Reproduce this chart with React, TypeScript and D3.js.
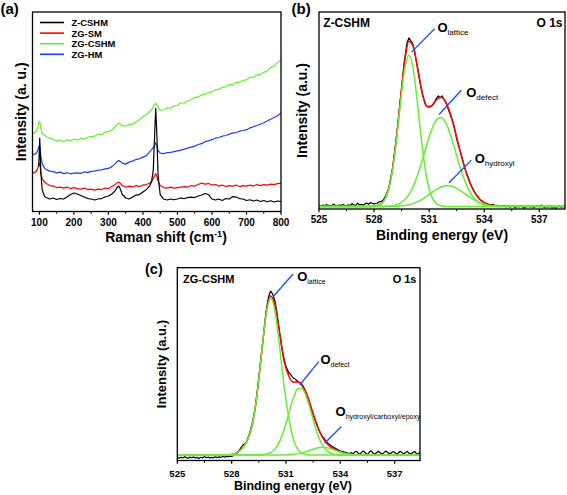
import React from "react";
import * as d3 from "d3";

// ---------------- data: panel (a) Raman ----------------
const ramanShift = [80, 90, 95, 98, 101, 104, 108, 115, 120, 130, 140, 150, 160, 170, 180, 190, 200, 210, 220, 230, 240, 250, 260, 270, 280, 290, 300, 310, 320, 325, 330, 335, 340, 350, 360, 370, 380, 390, 400, 410, 420, 425, 430, 434, 437, 440, 444, 450, 460, 470, 480, 490, 500, 510, 520, 530, 540, 550, 560, 570, 580, 590, 600, 610, 620, 630, 640, 650, 660, 670, 680, 690, 700, 710, 720, 730, 740, 750, 760, 770, 780, 790, 800];
const ramanZCSHM: (number | null)[] = [null, null, null, 45, 73.5, 40, 22, 15, 14, 12.5, 13.5, 12, 13, 12.5, 14.5, 17, 18.5, 17.5, 16, 14.5, 13, 12.5, 11.5, 12.5, 13, 14.5, 15.5, 17.5, 21, 24, 25.5, 22, 17, 13.5, 12.5, 14.5, 16.5, 17, 19.5, 22, 26, 30, 42, 78, 103.5, 80, 35, 17, 12.5, 11.5, 12.5, 11.8, 12.5, 13.5, 13, 14, 14.5, 14, 15.5, 16.5, 18, 17, 12.5, 11.5, 12.5, 11, 13, 12.5, 15, 14.5, 13, 12.5, 11, 11.8, 10.5, 11.5, 10, 11, 9.8, 10.8, 9.5, 10.5, 10];
const ramanZGSM = [38.5, 40, 43, 47, 48.5, 40, 33, 29.5, 28, 26, 25.5, 24, 24.5, 23.5, 24.5, 23, 24, 23, 22.5, 23.5, 22, 22.5, 21.5, 22.5, 22, 23.5, 23, 25, 27, 28.5, 29.5, 28, 26, 24.5, 25.5, 24.5, 26, 25, 26.5, 27, 28.5, 30, 33, 36, 38, 35.5, 30, 26, 24, 23.5, 24.5, 23.5, 24, 24.5, 25, 24.5, 26, 25.5, 27, 28.5, 27.5, 28, 26.5, 27, 25.5, 26.5, 25, 26, 25.5, 26.5, 25, 26, 25.5, 26.5, 25.5, 27, 26, 27, 26.5, 27.5, 27, 28, 28.5];
const ramanZGCSHM = [78.5, 80, 84, 88.5, 90.5, 84, 78, 76.5, 75, 73.5, 72.5, 70.5, 71.5, 70, 72, 70.8, 72.5, 71.5, 73.5, 72.5, 74.5, 75, 75.5, 77.5, 77, 79.5, 80, 81.5, 85, 87, 88.7, 87.5, 86, 85.5, 87.5, 87.5, 90, 92, 95, 97, 100.5, 102, 105, 107.5, 108.7, 107, 104, 101.5, 102, 104, 103.5, 106, 106.5, 109, 108.5, 111, 112, 114.5, 114.5, 117, 117.5, 119.5, 120, 122, 122.5, 124.5, 125, 127.5, 127, 129.5, 129.5, 131.5, 132, 134.5, 134.5, 137, 137.5, 139.5, 141, 144.5, 145.5, 149.5, 152];
const ramanZGHM = [57, 58, 61, 64.5, 66, 56, 48, 43.5, 42, 40.5, 40, 38.7, 39.5, 38, 38.8, 37.8, 38.5, 38.8, 38.2, 39.8, 39, 40.2, 40.5, 41.5, 41.8, 42.8, 43.2, 45, 48, 50, 51, 50, 48.5, 47.5, 49.5, 50.5, 52.2, 52.8, 54.5, 56, 60, 62, 64, 67, 69, 66, 61, 58.5, 58, 59, 59.3, 60, 60.8, 61.5, 62.5, 63.5, 64.5, 65.5, 67.2, 68, 70, 70.8, 72, 73.5, 74.2, 75.5, 76.2, 77.5, 78.5, 79.2, 80.5, 81.2, 82, 83.8, 85, 86.2, 87.5, 89, 90.8, 92.5, 94.2, 96, 98.7];
const ramanTicks = [100, 200, 300, 400, 500, 600, 700, 800];
const ramanMinorTicks = [150, 250, 350, 450, 550, 650, 750];
const ramanLegend = ["Z-CSHM", "ZG-SM", "ZG-CSHM", "ZG-HM"];

// ---------------- data: panel (b) Z-CSHM O 1s ----------------
const bEnergy = [525, 527.4, 527.65, 527.9, 528.15, 528.4, 528.65, 528.9, 529.15, 529.4, 529.65, 529.9, 530.15, 530.4, 530.65, 530.9, 531.15, 531.4, 531.65, 531.9, 532.15, 532.4, 532.65, 532.9, 533.15, 533.4, 533.65, 533.9, 534.15, 534.4, 534.65, 534.9, 538.5];
const bLattice = [1, 1, 1, 1.1, 1.7, 3.8, 10.4, 26.6, 56.8, 98.2, 136.8, 152.7, 136.8, 98.2, 56.8, 26.6, 10.4, 3.8, 1.7, 1.1, 1, 1, 1, 1, 1, 1, 1, 1, 1, 1, 1, 1, 1];
const bDefect = [1, 1, 1, 1, 1.02, 1.08, 1.22, 1.57, 2.4, 4.14, 7.44, 13.1, 21.9, 34.0, 48.9, 64.7, 78.7, 88.0, 90.2, 85.0, 73.5, 58.4, 42.7, 28.8, 17.9, 10.5, 5.9, 3.3, 2.0, 1.39, 1.14, 1.05, 1];
const bHydroxyl = [1, 1, 1, 1, 1, 1.02, 1.04, 1.1, 1.23, 1.5, 1.98, 2.82, 4.15, 6.08, 8.65, 11.7, 15.1, 18.2, 20.6, 21.9, 21.7, 20.2, 17.6, 14.4, 11.1, 8.1, 5.65, 3.84, 2.62, 1.86, 1.43, 1.2, 1];
const bEnvelope = [1, 1, 1, 1.1, 1.7, 3.9, 10.7, 27.3, 58.4, 101.8, 144.2, 166.6, 160.9, 136.3, 112.4, 101.0, 102.2, 108.0, 110.5, 106.0, 94.2, 77.6, 59.3, 42.2, 28.0, 17.6, 10.6, 6.1, 3.6, 2.25, 1.6, 1.25, 1];
const bMeasured: [number, number][] = [[525.0, 2.0], [525.1, 1.5], [525.2, 2.4], [525.3, 1.8], [525.4, 2.6], [525.5, 2.1], [525.6, 1.6], [525.7, 2.3], [525.8, 3.4], [525.9, 2.0], [526.0, 1.7], [526.1, 2.5], [526.2, 1.9], [526.3, 3.0], [526.4, 2.2], [526.5, 1.5], [526.6, 2.7], [526.7, 2.0], [526.8, 3.8], [526.9, 2.4], [527.0, 2.2], [527.1, 4.4], [527.2, 2.6], [527.3, 3.1], [527.4, 2.5], [527.5, 3.6], [527.6, 4.6], [527.7, 3.2], [527.8, 5.0], [527.9, 4.1], [528.0, 3.6], [528.15, 4.0], [528.3, 5.8], [528.4, 6.0], [528.5, 7.5], [528.65, 12.3], [528.8, 19.5], [528.9, 29.0], [529.0, 38.5], [529.15, 60.5], [529.3, 83.0], [529.4, 103.5], [529.5, 119.0], [529.65, 147.0], [529.8, 165.5], [529.9, 170.0], [530.0, 167.0], [530.1, 164.5], [530.2, 156.5], [530.3, 146.5], [530.4, 137.5], [530.5, 126.0], [530.65, 112.5], [530.8, 103.0], [530.9, 101.5], [531.0, 100.5], [531.15, 102.0], [531.3, 106.0], [531.4, 109.5], [531.5, 111.8], [531.6, 110.0], [531.7, 112.0], [531.8, 108.5], [531.9, 105.5], [532.0, 101.0], [532.15, 93.0], [532.3, 85.0], [532.4, 78.0], [532.5, 68.5], [532.65, 59.0], [532.8, 49.5], [532.9, 42.5], [533.0, 36.5], [533.15, 28.8], [533.3, 21.5], [533.4, 18.0], [533.55, 13.0], [533.65, 11.2], [533.8, 7.0], [533.9, 6.3], [534.0, 4.5], [534.15, 4.0], [534.3, 2.4], [534.4, 2.8], [534.5, 3.0], [534.6, 1.6], [534.7, 2.2], [534.8, 0.8], [534.9, 1.8], [535.0, 1.1], [535.1, 2.0], [535.2, 0.6], [535.3, 1.4], [535.4, 0.3], [535.5, 1.5], [535.6, 0.9], [535.7, -0.4], [535.8, 1.2], [535.9, 0.5], [536.0, 1.6], [536.1, 0.2], [536.2, -0.6], [536.3, 0.8], [536.4, 1.4], [536.5, 0.4], [536.6, 1.0], [536.7, -0.2], [536.8, 0.9], [536.9, 1.7], [537.0, 0.6], [537.1, 2.4], [537.2, 0.8], [537.3, -0.3], [537.4, 1.1], [537.5, 0.2], [537.6, 1.6], [537.7, -0.8], [537.8, 0.9], [537.9, -1.0], [538.0, 0.7], [538.1, 1.5], [538.2, 0.1], [538.3, 1.3], [538.4, 0.5]];
const bCallouts = [
  { sub: "lattice", at: [531.45, 175.5], from: [531.3, 179.2], to: [530.04, 155.8] },
  { sub: "defect", at: [533.02, 110.8], from: [532.75, 117.5], to: [531.54, 93.2] },
  { sub: "hydroxyl", at: [533.48, 44.2], from: [533.3, 47.5], to: [532.08, 24.8] },
];

// ---------------- data: panel (c) ZG-CSHM O 1s ----------------
const cEnergy = [525, 527.65, 527.9, 528.15, 528.4, 528.65, 528.9, 529.15, 529.4, 529.65, 529.9, 530.15, 530.4, 530.65, 530.9, 531.15, 531.4, 531.65, 531.9, 532.15, 532.4, 532.65, 532.9, 533.15, 533.4, 533.65, 533.9, 534.15, 534.4, 534.65, 534.9, 535.15, 538.5];
const cLattice = [5.5, 5.5, 5.8, 6.7, 9.0, 13.5, 21.5, 36.5, 65.5, 106.5, 145.5, 162.2, 148.5, 113.5, 73.5, 43.5, 21.5, 11.0, 7.0, 5.8, 5.5, 5.5, 5.5, 5.5, 5.5, 5.5, 5.5, 5.5, 5.5, 5.5, 5.5, 5.5, 5.5];
const cDefect = [5.5, 5.5, 5.5, 5.5, 5.5, 5.5, 5.5, 5.51, 5.55, 5.72, 6.29, 7.88, 11.65, 19.1, 31.0, 46.6, 61.9, 71.8, 72.0, 62.5, 47.2, 31.6, 19.4, 11.9, 8.0, 6.33, 5.74, 5.56, 5.5, 5.5, 5.5, 5.5, 5.5];
const cHydroxyl = [5.5, 5.5, 5.5, 5.5, 5.5, 5.5, 5.5, 5.5, 5.5, 5.5, 5.5, 5.5, 5.5, 5.52, 5.58, 5.72, 6.03, 6.63, 7.64, 9.06, 10.7, 12.2, 13.09, 13.07, 12.15, 10.64, 9.0, 7.59, 6.6, 6.01, 5.71, 5.58, 5.5];
const cEnvelope = [5.5, 5.5, 5.8, 6.7, 9.0, 13.5, 21.5, 36.5, 65.6, 106.7, 146.3, 164.6, 154.7, 127.1, 99.1, 84.8, 78.4, 78.4, 75.6, 66.4, 52.4, 38.3, 27.0, 19.5, 14.65, 11.5, 9.24, 7.65, 6.6, 6.0, 5.7, 5.6, 5.5];
const cMeasured: [number, number][] = [[525.0, 3.0], [525.1, 2.4], [525.2, 3.3], [525.3, 2.6], [525.4, 3.8], [525.5, 2.9], [525.6, 2.2], [525.7, 3.4], [525.8, 2.7], [525.9, 3.6], [526.0, 2.5], [526.1, 3.1], [526.2, 2.0], [526.3, 3.3], [526.4, 2.6], [526.5, 3.9], [526.6, 2.8], [526.7, 3.5], [526.8, 2.4], [526.9, 3.2], [527.0, 2.7], [527.1, 3.8], [527.2, 2.9], [527.3, 3.6], [527.4, 3.0], [527.5, 4.2], [527.6, 3.4], [527.7, 4.0], [527.8, 3.8], [527.9, 4.4], [528.0, 4.0], [528.15, 5.5], [528.3, 7.5], [528.4, 9.5], [528.5, 12.5], [528.65, 16.0], [528.8, 17.5], [528.9, 22.5], [529.0, 27.5], [529.15, 38.0], [529.3, 52.0], [529.4, 67.0], [529.5, 83.0], [529.65, 108.0], [529.8, 131.0], [529.9, 149.0], [530.0, 160.0], [530.08, 166.0], [530.15, 169.5], [530.25, 167.0], [530.32, 163.5], [530.4, 159.0], [530.5, 148.0], [530.65, 128.0], [530.8, 110.0], [530.9, 101.0], [531.0, 94.0], [531.15, 88.0], [531.3, 85.0], [531.4, 82.5], [531.5, 81.5], [531.65, 79.0], [531.8, 77.5], [531.9, 74.5], [532.0, 71.5], [532.15, 65.5], [532.3, 58.0], [532.4, 52.0], [532.5, 46.0], [532.65, 38.8], [532.8, 31.5], [532.9, 27.5], [533.0, 24.0], [533.15, 21.0], [533.3, 17.5], [533.4, 16.0], [533.5, 14.5], [533.65, 13.0], [533.8, 11.5], [533.9, 10.5], [534.0, 9.5], [534.15, 9.0], [534.3, 8.0], [534.4, 7.5], [534.5, 6.8], [534.6, 8.0], [534.7, 6.5], [534.8, 8.5], [534.9, 9.2], [535.0, 7.0], [535.1, 6.2], [535.2, 8.8], [535.3, 9.5], [535.4, 7.2], [535.5, 6.0], [535.6, 8.5], [535.7, 9.6], [535.8, 7.5], [535.9, 6.2], [536.0, 7.8], [536.1, 9.3], [536.2, 8.0], [536.3, 6.4], [536.4, 7.6], [536.5, 9.4], [536.6, 8.2], [536.7, 6.5], [536.8, 7.4], [536.9, 9.0], [537.0, 8.3], [537.1, 6.3], [537.2, 7.5], [537.3, 9.2], [537.4, 8.0], [537.5, 6.6], [537.6, 7.9], [537.7, 9.1], [537.8, 7.2], [537.9, 6.2], [538.0, 8.0], [538.1, 9.0], [538.2, 7.0], [538.3, 6.5], [538.4, 8.2]];
const cCallouts = [
  { sub: "lattice", at: [531.62, 179.8], from: [531.39, 186.5], to: [530.29, 163.8] },
  { sub: "defect", at: [532.9, 96.5], from: [532.81, 98.8], to: [531.76, 75.5] },
  { sub: "hydroxyl/carboxyl/epoxy", at: [533.74, 44.5], from: [534.05, 33.8], to: [533.13, 17.2] },
];

const xpsTicks = [525, 528, 531, 534, 537];
const xpsMinorTicks = [526.5, 529.5, 532.5, 535.5];

// ---------------- styling ----------------
const FONT = "Arial, 'Liberation Sans', Helvetica, sans-serif";
const BLACK = "#000000";
const RED = "#ff0000";
const GREEN = "#66ee33";
const BLUE = "#1f3cff";
const ARROW = "#1a4cff";
const ramanColors = [BLACK, RED, GREEN, BLUE];

type Box = { left: number; right: number; top: number; bottom: number };
type Scale = d3.ScaleLinear<number, number>;

function Frame({ box }: { box: Box }) {
  return (
    <rect x={box.left} y={box.top} width={box.right - box.left} height={box.bottom - box.top}
      fill="none" stroke="#000" strokeWidth={1.3} />
  );
}

function XAxis({ scale, y, major, minor, fontSize, labelOffset }:
  { scale: Scale; y: number; major: number[]; minor: number[]; fontSize: number; labelOffset: number }) {
  return (
    <g>
      {major.map((t) => (
        <line key={"M" + t} x1={scale(t)} x2={scale(t)} y1={y} y2={y + 3.2} stroke="#000" strokeWidth={1.2} />
      ))}
      {minor.map((t) => (
        <line key={"m" + t} x1={scale(t)} x2={scale(t)} y1={y} y2={y + 2.2} stroke="#000" strokeWidth={1} />
      ))}
      {major.map((t) => (
        <text key={"L" + t} x={scale(t)} y={y + labelOffset} textAnchor="middle" fontSize={fontSize}
          fontWeight="bold" fontFamily={FONT}>{t}</text>
      ))}
    </g>
  );
}

function Callout({ xs, ys, c, fontO, fontSub }:
  { xs: Scale; ys: Scale; c: { sub: string; at: number[]; from: number[]; to: number[] }; fontO: number; fontSub: number }) {
  return (
    <g>
      <line x1={xs(c.from[0])} y1={ys(c.from[1])} x2={xs(c.to[0])} y2={ys(c.to[1])} stroke={ARROW} strokeWidth={1.3} />
      <text x={xs(c.at[0])} y={ys(c.at[1])} fontFamily={FONT} fontSize={fontO} fontWeight="bold">
        O<tspan dy={3} fontSize={fontSub} fontWeight="normal">{c.sub}</tspan>
      </text>
    </g>
  );
}

export default function App() {
  // panel geometry
  const A: Box = { left: 32.5, right: 281, top: 12, bottom: 211.5 };
  const B: Box = { left: 319, right: 565, top: 12, bottom: 209 };
  const C: Box = { left: 177.3, right: 420, top: 267.7, bottom: 460.5 };

  const xA = d3.scaleLinear().domain([80, 800]).range([A.left, A.right]);
  const yA = d3.scaleLinear().domain([0, 200]).range([A.bottom, A.top]);
  const xB = d3.scaleLinear().domain([525, 538.4]).range([B.left, B.right]);
  const yB = d3.scaleLinear().domain([-1.5, 196]).range([B.bottom, B.top]);
  const xC = d3.scaleLinear().domain([525, 538.4]).range([C.left, C.right]);
  const yC = d3.scaleLinear().domain([0, 192.8]).range([C.bottom, C.top]);

  const ramanLine = (vals: (number | null)[]) =>
    d3.line<number | null>()
      .defined((v) => v != null)
      .x((_, i) => xA(ramanShift[i]))
      .y((v) => yA(v as number))(vals) || "";

  const fitLine = (xs: Scale, ys: Scale, energy: number[]) => (vals: number[]) =>
    d3.line<number>()
      .x((_, i) => xs(energy[i]))
      .y((v) => ys(v))
      .curve(d3.curveMonotoneX)(vals) || "";

  const rawLine = (xs: Scale, ys: Scale) => (pts: [number, number][]) =>
    d3.line<[number, number]>().x((p) => xs(p[0])).y((p) => ys(p[1]))(pts) || "";

  const fitB = fitLine(xB, yB, bEnergy);
  const fitC = fitLine(xC, yC, cEnergy);

  const ramanSeries = [ramanZCSHM, ramanZGSM, ramanZGCSHM, ramanZGHM];
  const legendStep = 10.6;

  return (
    <svg width={567} height={495} viewBox="0 0 567 495"
      style={{ position: "absolute", left: 0, top: 0, background: "#fff", display: "block" }}
      fontFamily={FONT}>
      <defs>
        <clipPath id="clipA"><rect x={A.left} y={A.top} width={A.right - A.left} height={A.bottom - A.top} /></clipPath>
        <clipPath id="clipB"><rect x={B.left} y={B.top} width={B.right - B.left} height={B.bottom - B.top} /></clipPath>
        <clipPath id="clipC"><rect x={C.left} y={C.top} width={C.right - C.left} height={C.bottom - C.top} /></clipPath>
      </defs>
      <rect x={0} y={0} width={567} height={495} fill="#fff" />

      {/* ---------- panel (a) ---------- */}
      <text x={0.5} y={14} fontSize={15} fontWeight="bold">(a)</text>
      <g clipPath="url(#clipA)">
        {[3, 2, 1, 0].map((k) => (
          <path key={k} d={ramanLine(ramanSeries[k])} fill="none" stroke={ramanColors[k]} strokeWidth={1.2}
            strokeLinejoin="round" />
        ))}
      </g>
      {ramanLegend.map((name, i) => (
        <g key={name}>
          <line x1={40} x2={64} y1={22.5 + i * legendStep} y2={22.5 + i * legendStep} stroke={ramanColors[i]} strokeWidth={1.6} />
          <text x={71.5} y={25.9 + i * legendStep} fontSize={9.4} fontWeight="bold">{name}</text>
        </g>
      ))}
      <Frame box={A} />
      <XAxis scale={xA} y={A.bottom} major={ramanTicks} minor={ramanMinorTicks} fontSize={10} labelOffset={14} />
      <text x={166} y={242} textAnchor="middle" fontSize={14} fontWeight="bold">
        Raman shift (cm<tspan dy={-5} fontSize={9}>-1</tspan><tspan dy={5}>)</tspan>
      </text>
      <text transform={`translate(25.5, ${(A.top + A.bottom) / 2}) rotate(-90)`} textAnchor="middle"
        fontSize={14} fontWeight="bold">Intensity (a. u.)</text>

      {/* ---------- panel (b) ---------- */}
      <text x={291.5} y={14} fontSize={15} fontWeight="bold">(b)</text>
      <g clipPath="url(#clipB)">
        <path d={rawLine(xB, yB)(bMeasured)} fill="none" stroke={BLACK} strokeWidth={1.2} strokeLinejoin="round" />
        <path d={fitB(bEnvelope)} fill="none" stroke={RED} strokeWidth={1.5} />
        <path d={fitB(bLattice)} fill="none" stroke={GREEN} strokeWidth={1.5} />
        <path d={fitB(bDefect)} fill="none" stroke={GREEN} strokeWidth={1.5} />
        <path d={fitB(bHydroxyl)} fill="none" stroke={GREEN} strokeWidth={1.5} />
      </g>
      {bCallouts.map((c) => (
        <Callout key={c.sub} xs={xB} ys={yB} c={c} fontO={13} fontSub={8} />
      ))}
      <text x={323.3} y={27} fontSize={12} fontWeight="bold">Z-CSHM</text>
      <text x={562.5} y={27} fontSize={12} fontWeight="bold" textAnchor="end">O 1s</text>
      <Frame box={B} />
      <XAxis scale={xB} y={B.bottom} major={xpsTicks} minor={xpsMinorTicks} fontSize={10} labelOffset={14} />
      <text x={(B.left + B.right) / 2} y={240} textAnchor="middle" fontSize={14} fontWeight="bold">Binding energy (eV)</text>
      <text transform={`translate(306.5, ${(B.top + B.bottom) / 2}) rotate(-90)`} textAnchor="middle"
        fontSize={14} fontWeight="bold">Intensity (a.u.)</text>

      {/* ---------- panel (c) ---------- */}
      <text x={145} y={274} fontSize={14.5} fontWeight="bold">(c)</text>
      <g clipPath="url(#clipC)">
        <path d={rawLine(xC, yC)(cMeasured)} fill="none" stroke={BLACK} strokeWidth={1.2} strokeLinejoin="round" />
        <path d={fitC(cEnvelope)} fill="none" stroke={RED} strokeWidth={1.5} />
        <path d={fitC(cLattice)} fill="none" stroke={GREEN} strokeWidth={1.5} />
        <path d={fitC(cDefect)} fill="none" stroke={GREEN} strokeWidth={1.5} />
        <path d={fitC(cHydroxyl)} fill="none" stroke={GREEN} strokeWidth={1.5} />
      </g>
      {cCallouts.map((c) => (
        <Callout key={c.sub} xs={xC} ys={yC} c={c} fontO={13} fontSub={7} />
      ))}
      <text x={183} y={283} fontSize={11} fontWeight="bold">ZG-CSHM</text>
      <text x={416.5} y={283} fontSize={11} fontWeight="bold" textAnchor="end">O 1s</text>
      <Frame box={C} />
      <XAxis scale={xC} y={C.bottom} major={xpsTicks} minor={xpsMinorTicks} fontSize={9.5} labelOffset={16} />
      <text x={293} y={490} textAnchor="middle" fontSize={12.5} fontWeight="bold">Binding energy (eV)</text>
      <text transform={`translate(166, ${(C.top + C.bottom) / 2}) rotate(-90)`} textAnchor="middle"
        fontSize={13} fontWeight="bold">Intensity (a.u.)</text>
    </svg>
  );
}
